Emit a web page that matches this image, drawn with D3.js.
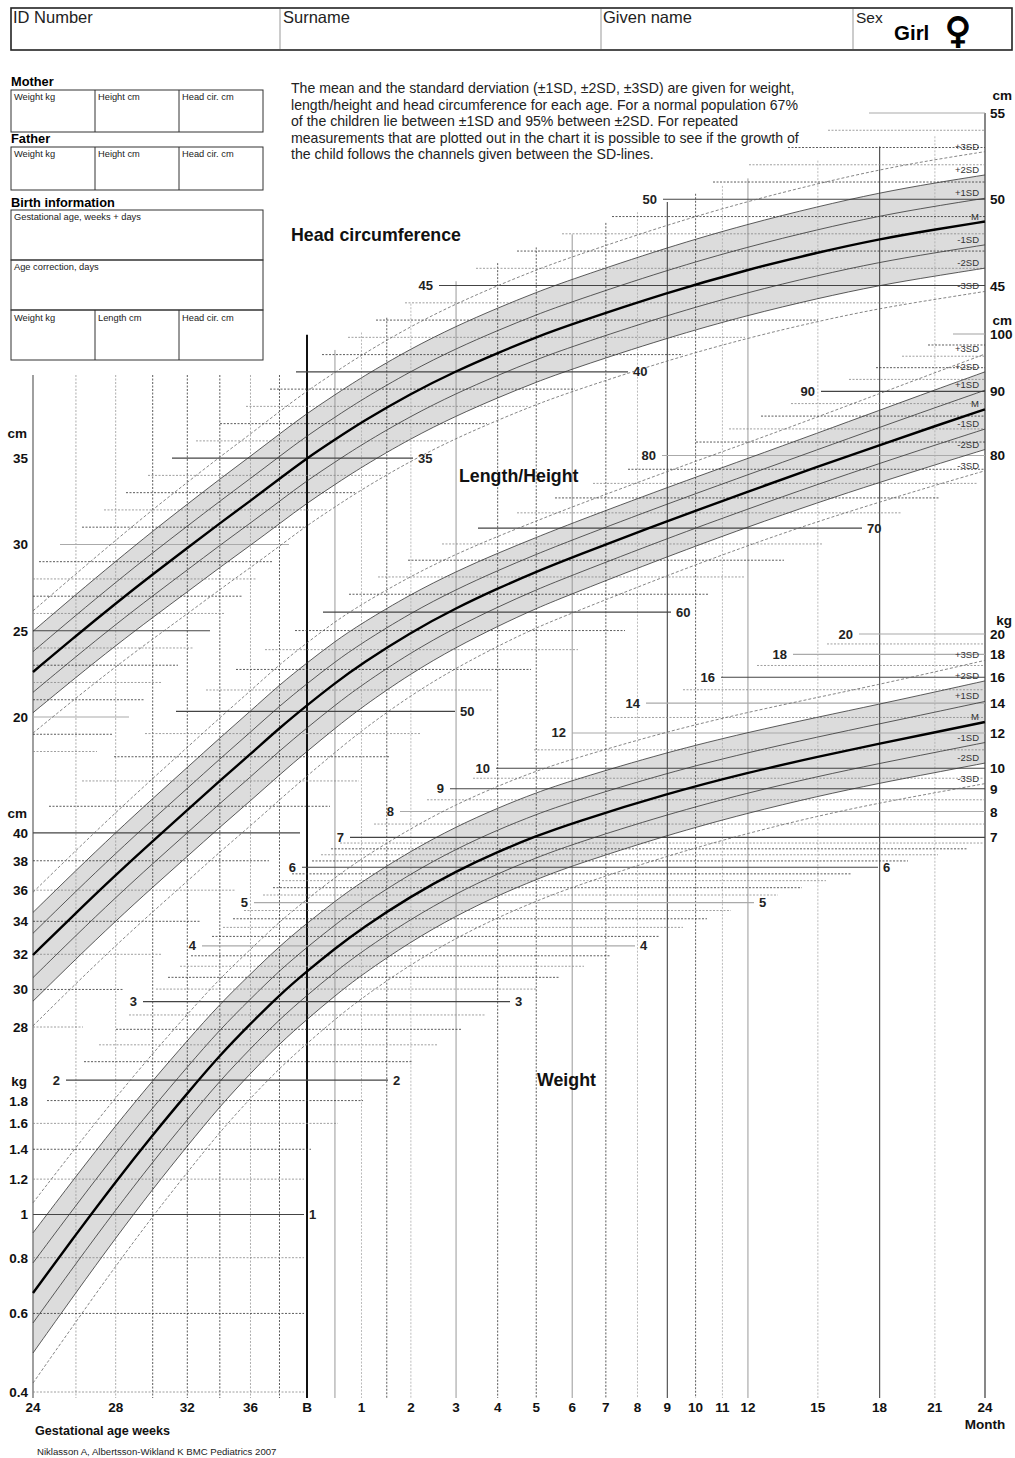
<!DOCTYPE html>
<html>
<head>
<meta charset="utf-8">
<script src="https://cdn.jsdelivr.net/npm/d3@7"></script>
<style>
  body { margin:0; background:#fff; }
  text { font-family: "Liberation Sans", Arial, sans-serif; }
</style>
</head>
<body>
<svg id="chart" width="1015" height="1458"></svg>
<script>
// ages: gestational weeks up to birth (40 = B), then months after birth
var gestWeeks = [24, 26, 28, 30, 32, 34, 36, 38, 40]
var ageMonths = [0.5, 1, 2, 3, 4, 5, 6, 9, 12, 15, 18, 21, 24]

// head circumference, cm
var headMean = [22.61, 24.70, 26.58, 28.27, 29.79, 31.23, 32.53, 33.80, 35.0, 36.07, 37.08, 38.75, 40.05, 41.10, 42.01, 42.77, 44.60, 45.93, 46.92, 47.70, 48.25, 48.71]
var headSD   = [1.18, 1.2, 1.22, 1.25, 1.27, 1.28, 1.29, 1.3, 1.3, 1.3, 1.3, 1.3, 1.3, 1.3, 1.3, 1.3, 1.31, 1.32, 1.33, 1.34, 1.35, 1.35]
// length/height, cm
var lengthMean = [31.96, 34.53, 37.02, 39.40, 41.70, 44.02, 46.22, 48.50, 50.56, 52.66, 54.56, 57.82, 60.45, 62.66, 64.62, 66.35, 70.95, 74.87, 78.38, 81.54, 84.43, 87.08]
var lengthSD   = [1.3, 1.4, 1.5, 1.6, 1.7, 1.8, 1.9, 2.0, 2.05, 2.1, 2.1, 2.1, 2.1, 2.1, 2.1, 2.15, 2.25, 2.35, 2.5, 2.7, 2.9, 3.1]
// weight, kg (sd given on log scale)
var weightMean = [0.667, 0.902, 1.184, 1.508, 1.869, 2.275, 2.676, 3.105, 3.508, 3.946, 4.376, 5.17, 5.88, 6.50, 7.05, 7.54, 8.78, 9.78, 10.62, 11.36, 12.04, 12.70]
var weightSD   = [0.155, 0.15, 0.145, 0.14, 0.136, 0.132, 0.128, 0.126, 0.124, 0.122, 0.12, 0.117, 0.115, 0.113, 0.112, 0.11, 0.107, 0.104, 0.102, 0.102, 0.104, 0.106]

var sdLevels = [3, 2, 1, 0, -1, -2, -3]
var sdNames  = ["+3SD", "+2SD", "+1SD", "M", "-1SD", "-2SD", "-3SD"]

// tick labels
var weekTicks  = [24, 28, 32, 36]
var monthTicks = [1, 2, 3, 4, 5, 6, 7, 8, 9, 10, 11, 12, 15, 18, 21, 24]
var gridWeeks  = [26, 28, 30, 32, 34, 36, 38]
var gridMonths = [0.5, 1, 1.5, 2, 3, 4, 5, 6, 7, 8, 9, 10, 11, 12, 15, 18, 21]
var headLeftTicks    = [20, 25, 30, 35]
var headRightTicks   = [45, 50, 55]
var lengthLeftTicks  = [28, 30, 32, 34, 36, 38, 40]
var lengthRightTicks = [80, 90, 100]
var weightLeftTicks  = [0.4, 0.6, 0.8, 1, 1.2, 1.4, 1.6, 1.8]
var weightRightTicks = [7, 8, 9, 10, 12, 14, 16, 18, 20]
var headMajor   = [20, 25, 30, 35, 40, 45, 50, 55]
var lengthMajor = [40, 50, 60, 70, 80, 90, 100]
var weightMajor = [1, 2, 3, 4, 5, 6, 7, 8, 9, 10, 12, 14, 16, 18, 20]

var infoText = [
  "The mean and the standard derviation (\u00b11SD, \u00b12SD, \u00b13SD) are given for weight,",
  "length/height and head circumference for each age. For a normal population 67%",
  "of the children lie between \u00b11SD and 95% between \u00b12SD. For repeated",
  "measurements that are plotted out in the chart it is possible to see if the growth of",
  "the child follows the channels given between the SD-lines."
]

var svg = d3.select("#chart")
var X0 = 33, X1 = 985, YB = 1392

var x = d3.scaleLog().domain([24, 40, 144.3]).range([X0, 307, X1])
function monthX(m) { return x(40 + m * 4.345) }
var agePos = gestWeeks.map(function(w){ return x(w) }).concat(ageMonths.map(monthX))

var yHead   = d3.scaleLinear().domain([20, 55]).range([717, 113])
var yLength = d3.scaleLog().domain([28, 100]).range([1027, 334])
var yWeight = d3.scaleLog().domain([0.4, 20]).range([YB, 634])

function measure(mean, sd, y, isLog, o) {
  var m = {mean: mean, sd: sd, y: y, log: isLog}
  m.meanAt = d3.scaleLinear().domain(agePos).range(mean).clamp(true)
  m.sdAt = d3.scaleLinear().domain(agePos).range(sd).clamp(true)
  m.val = function(i, z) { return isLog ? mean[i] * Math.exp(z * sd[i]) : mean[i] + z * sd[i] }
  m.at = function(px, z) {
    var a = m.meanAt(px), s = m.sdAt(px)
    return isLog ? a * Math.exp(z * s) : a + z * s
  }
  return Object.assign(m, o)
}
// how far (in SD) the grid rows reach beyond the curves, varying along the age axis
function reach(r, px) {
  var es = r.es || 274, ls = r.ls || 600
  return r.a + (r.b || 0) * (px - 500)
    + (r.early || 0) * Math.max(0, 1 - (px - X0) / es)
    + (r.late || 0) * Math.max(0, (px - ls) / (X1 - ls))
}

var head = measure(headMean, headSD, yHead, false, {
  grid: d3.range(18, 56), major: headMajor, light: [20, 30, 55],
  left: {a: 4.2, early: 1, late: 2.3, ls: 700}, right: {a: 2.95, early: 4.5},
  noRight: [20, 25, 30], noLeft: [55]
})
var length = measure(lengthMean, lengthSD, yLength, false, {
  grid: d3.range(28, 101, 2), major: lengthMajor, light: [80, 100],
  left: {a: 4, early: 3, late: 1}, right: {a: 4.95, late: -1.5, ls: 670},
  noRight: [40], noLeft: [100]
})
var weight = measure(weightMean, weightSD, yWeight, true, {
  grid: d3.range(2, 35).map(function(d){ return +(d / 5).toFixed(1) })
        .concat([7, 7.5, 8, 8.5, 9, 9.5]).concat(d3.range(10, 21)),
  major: weightMajor, light: [4, 5, 8, 12, 14, 18, 20],
  left: {a: 3.85, early: 2.0, es: 400, late: 2.6, ls: 500}, right: {a: 7.14, b: -0.00235},
  minRight: 304, both: true, noRight: [], noLeft: []
})
var measures = [head, length, weight]

// ---------- header ----------
var hdr = svg.append("g")
hdr.append("rect").attr("x", 11).attr("y", 8).attr("width", 1001).attr("height", 42)
  .attr("fill", "none").attr("stroke", "#222").attr("stroke-width", 1.6)
;[280, 601, 853].forEach(function(px){
  hdr.append("line").attr("x1", px).attr("x2", px).attr("y1", 9).attr("y2", 49).attr("stroke", "#999")
})
;[["ID Number", 13], ["Surname", 283], ["Given name", 603], ["Sex", 856]].forEach(function(d){
  hdr.append("text").attr("x", d[1]).attr("y", 23).attr("font-size", d[0] == "Sex" ? 15.5 : 16.5).attr("fill", "#222").text(d[0])
})
hdr.append("text").attr("x", 894).attr("y", 40).attr("font-size", 20.5).attr("font-weight", "bold").text("Girl")
hdr.append("text").attr("x", 958).attr("y", 43).attr("text-anchor", "middle").attr("font-size", 36)
  .attr("font-weight", "bold").attr("stroke", "#000").attr("stroke-width", 1.2)
  .style("font-family", "DejaVu Sans").text("\u2640")

// ---------- parent / birth boxes ----------
var box = svg.append("g").attr("stroke", "#333").attr("fill", "none")
function cells(y0, y1, cols) {
  box.append("rect").attr("x", 11).attr("y", y0).attr("width", 252).attr("height", y1 - y0)
  if (cols) [95, 179].forEach(function(px){
    box.append("line").attr("x1", px).attr("x2", px).attr("y1", y0).attr("y2", y1)
  })
}
cells(90, 132, true); cells(147, 190, true); cells(210, 260, false); cells(260, 310, false); cells(310, 360, true)
var info = svg.append("g")
;[["Mother", 86], ["Father", 143], ["Birth information", 207]].forEach(function(d){
  info.append("text").attr("x", 11).attr("y", d[1]).attr("font-size", 12.8).attr("font-weight", "bold").text(d[0])
})
function small(t, px, py) { info.append("text").attr("x", px).attr("y", py).attr("font-size", 9.3).attr("fill", "#222").text(t) }
;[100, 157].forEach(function(py){ small("Weight kg", 14, py); small("Height cm", 98, py); small("Head cir. cm", 182, py) })
small("Gestational age, weeks + days", 14, 220)
small("Age correction, days", 14, 270)
small("Weight kg", 14, 321); small("Length cm", 98, 321); small("Head cir. cm", 182, 321)

info.selectAll(".para").data(infoText).enter().append("text")
  .attr("x", 291).attr("y", function(d, i){ return 93 + i * 16.5 })
  .attr("font-size", 14.1).attr("fill", "#222").text(function(d){ return d })

// ---------- bands (under the grid) ----------
var smooth = d3.curveBasis
var gBand = svg.append("g")
measures.forEach(function(m){
  gBand.append("path")
    .datum(agePos.map(function(px, i){ return [px, m.y(m.val(i, 2)), m.y(m.val(i, -2))] }))
    .attr("fill", "#dcdcdc")
    .attr("d", d3.area().x(function(d){ return d[0] }).y0(function(d){ return d[2] }).y1(function(d){ return d[1] }).curve(smooth))
})

// ---------- vertical grid ----------
var gV = svg.append("g")
var darkDot = [30, 32, 34, 38]
gridWeeks.forEach(function(w){
  gV.append("line").attr("x1", x(w)).attr("x2", x(w)).attr("y1", 375).attr("y2", YB + 6)
    .attr("stroke", darkDot.indexOf(w) >= 0 ? "#333" : "#999").attr("stroke-width", 0.8).attr("stroke-dasharray", "2,1.5")
})
var solidM = [0.5, 3, 6, 12], darkM = [9, 18], dotDarkM = [1.5, 4, 5, 7, 10]
function monthTop(px, k) { return yHead(head.at(px, k)) }
gridMonths.forEach(function(mo){
  var px = monthX(mo)
  var ln = gV.append("line").attr("x1", px).attr("x2", px).attr("y1", monthTop(px, 4)).attr("y2", YB + 6)
  if (darkM.indexOf(mo) >= 0) ln.attr("stroke", "#555").attr("stroke-width", 1.2)
  else if (solidM.indexOf(mo) >= 0) ln.attr("stroke", "#999").attr("stroke-width", 1)
  else ln.attr("stroke", dotDarkM.indexOf(mo) >= 0 ? "#333" : "#aaa").attr("stroke-width", 0.8).attr("stroke-dasharray", "2,1.5")
})
// birth line and the two side axes
gV.append("line").attr("x1", x(40)).attr("x2", x(40)).attr("y1", monthTop(x(40), 5.5)).attr("y2", YB + 6)
  .attr("stroke", "#111").attr("stroke-width", 2)
gV.append("line").attr("x1", X0).attr("x2", X0).attr("y1", 375).attr("y2", YB + 6).attr("stroke", "#777").attr("stroke-width", 1.4)
gV.append("line").attr("x1", X1).attr("x2", X1).attr("y1", yHead(55)).attr("y2", YB + 6).attr("stroke", "#555").attr("stroke-width", 1.4)

// ---------- horizontal grid ----------
var gH = svg.append("g"), gLab = svg.append("g")
function span(m, v) {
  var xl = null, xr = null
  for (var px = X0; px <= X1; px++) {
    if (xl === null && m.at(px, reach(m.left, px)) >= v - 1e-9) xl = px
    if (m.at(px, -reach(m.right, px)) <= v) xr = px
  }
  if (xl === null) return null
  if (xr === null) xr = X0
  if (m.minRight) xr = Math.max(xr, m.minRight)
  if (xr - xl < 4) return null
  return [xl, xr]
}
function innerLabel(t, px, py, anchor) {
  gLab.append("text").attr("x", px).attr("y", py + 4.5).attr("text-anchor", anchor)
    .attr("font-size", 13).attr("font-weight", "bold").attr("fill", "#222").text(t)
}
measures.forEach(function(m){
  m.grid.forEach(function(v, i){
    var sp = span(m, v)
    if (!sp) return
    var yy = m.y(v), major = m.major.indexOf(v) >= 0
    var ln = gH.append("line").attr("x1", sp[0]).attr("x2", sp[1]).attr("y1", yy).attr("y2", yy)
    if (major) {
      ln.attr("stroke", m.light.indexOf(v) >= 0 ? "#aaa" : "#444").attr("stroke-width", 1.1)
      var atL = sp[0] <= X0 + 1, atR = sp[1] >= X1 - 1
      if (!atR && m.noRight.indexOf(v) < 0) innerLabel(v, sp[1] + 5, yy, "start")
      if (!atL && (m.both || atR) && m.noLeft.indexOf(v) < 0) innerLabel(v, sp[0] - 6, yy, "end")
    } else {
      ln.attr("stroke", i % 2 ? "#333" : "#888").attr("stroke-width", 0.8).attr("stroke-dasharray", "2,1.5")
    }
  })
})

// ---------- SD curves ----------
var gC = svg.append("g")
var line = d3.line().curve(smooth)
measures.forEach(function(m){
  sdLevels.forEach(function(z, k){
    var pts = agePos.map(function(px, i){ return [px, m.y(m.val(i, z))] })
    var p = gC.append("path").datum(pts).attr("d", line).attr("fill", "none")
    if (z == 0) p.attr("stroke", "#000").attr("stroke-width", 2.4)
    else if (Math.abs(z) == 3) p.attr("stroke", "#666").attr("stroke-width", 0.8).attr("stroke-dasharray", "3,2")
    else p.attr("stroke", "#333").attr("stroke-width", 0.8)
    var end = pts[pts.length - 1]
    gC.append("text").attr("x", X1 - 6).attr("y", end[1] - 2).attr("text-anchor", "end")
      .attr("font-size", 9.5).attr("fill", "#333").text(sdNames[k])
  })
})

// ---------- axis labels ----------
var gA = svg.append("g").attr("font-weight", "bold").attr("font-size", 13.5).attr("fill", "#111")
function sideLabels(ticks, y, side, unit, unitGap) {
  var px = side == "left" ? 28 : 990, anchor = side == "left" ? "end" : "start"
  ticks.forEach(function(t){
    gA.append("text").attr("x", px).attr("y", y(t) + 5).attr("text-anchor", anchor).text(t)
  })
  var top = d3.min(ticks.map(y))
  gA.append("text").attr("x", side == "left" ? 27 : 1012).attr("y", top - unitGap + 5).attr("text-anchor", "end").text(unit)
}
sideLabels(headLeftTicks, yHead, "left", "cm", 25)
sideLabels(lengthLeftTicks, yLength, "left", "cm", 20)
sideLabels(weightLeftTicks, yWeight, "left", "kg", 20)
sideLabels(headRightTicks, yHead, "right", "cm", 18)
sideLabels(lengthRightTicks, yLength, "right", "cm", 14)
sideLabels(weightRightTicks, yWeight, "right", "kg", 14)

weekTicks.forEach(function(w){
  gA.append("text").attr("x", x(w)).attr("y", 1412).attr("text-anchor", "middle").text(w)
})
gA.append("text").attr("x", x(40)).attr("y", 1412).attr("text-anchor", "middle").text("B")
monthTicks.forEach(function(mo){
  gA.append("text").attr("x", monthX(mo)).attr("y", 1412).attr("text-anchor", "middle").text(mo)
})
gA.append("text").attr("x", X1).attr("y", 1429).attr("text-anchor", "middle").text("Month")
gA.append("text").attr("x", 35).attr("y", 1435).attr("font-size", 12.6).text("Gestational age weeks")
svg.append("text").attr("x", 37).attr("y", 1455).attr("font-size", 9.6).attr("fill", "#222")
  .text("Niklasson A, Albertsson-Wikland K   BMC Pediatrics 2007")

// titles
var gT = svg.append("g").attr("font-weight", "bold").attr("font-size", 17.8).attr("fill", "#111")
gT.append("text").attr("x", 291).attr("y", 241).text("Head circumference")
gT.append("text").attr("x", 459).attr("y", 482).text("Length/Height")
gT.append("text").attr("x", 537).attr("y", 1086).text("Weight")
</script>
</body>
</html>
